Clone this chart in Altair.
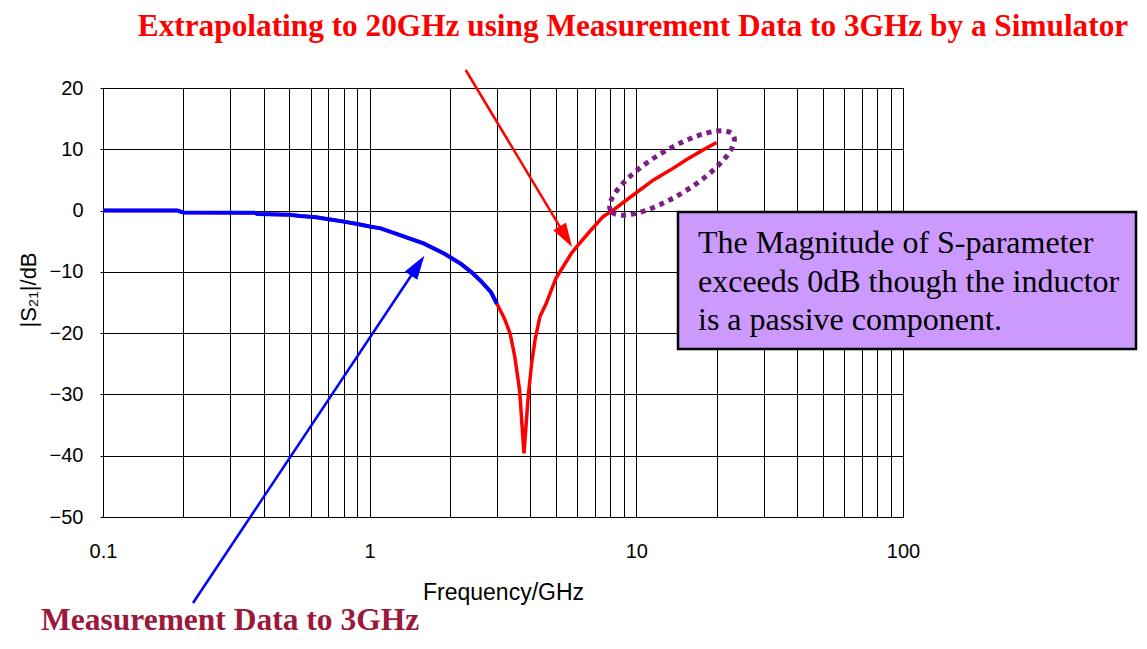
import altair as alt
import pandas as pd

# ---------------- data ----------------
freq_meas = [0.1, 0.19, 0.2, 0.37, 0.38, 0.5, 0.55, 0.63, 0.7, 0.8, 0.9,
             1.0, 1.1, 1.3, 1.6, 1.9, 2.2, 2.4, 2.6, 2.85, 3.0]
s21_meas = [0.0, 0.0, -0.3, -0.35, -0.55, -0.7, -0.9, -1.1, -1.4, -1.8, -2.2,
            -2.6, -2.9, -4.0, -5.4, -7.0, -8.7, -10.0, -11.4, -13.3, -15.2]

freq_sim = [3.0, 3.2, 3.36, 3.5, 3.65, 3.79, 3.93, 4.05, 4.17, 4.35, 4.6, 4.8,
            5.0, 5.5, 5.7, 6.0, 6.6, 7.5, 8.2, 9.7, 11.6, 13.4, 15.4, 17.8, 20.0]
s21_sim = [-15.2, -17.6, -20.0, -23.8, -29.3, -39.6, -30.4, -24.9, -21.1, -17.3, -15.1, -13.0,
           -11.0, -8.1, -7.0, -5.8, -3.7, -1.0, 0.1, 2.5, 5.0, 6.6, 8.3, 9.9, 11.1]

x_grid_values = [0.1, 0.2, 0.3, 0.4, 0.5, 0.6, 0.7, 0.8, 0.9,
                 1, 2, 3, 4, 5, 6, 7, 8, 9,
                 10, 20, 30, 40, 50, 60, 70, 80, 90, 100]
x_label_values = [0.1, 1, 10, 100]
x_label_text = ["0.1", "1", "10", "100"]
y_tick_values = [-50, -40, -30, -20, -10, 0, 10, 20]

title_text = "Extrapolating to 20GHz using Measurement Data to 3GHz by a Simulator"
bottom_text = "Measurement Data to 3GHz"
box_lines = ["The Magnitude of S-parameter",
             "exceeds 0dB though the inductor",
             "is a passive component."]
x_title = "Frequency/GHz"
y_title = "|S₂₁|/dB"

# ---------------- tables ----------------
df_red = pd.DataFrame({"f": freq_meas + freq_sim[1:], "s": s21_meas + s21_sim[1:]})
df_blue = pd.DataFrame({"f": freq_meas, "s": s21_meas})
one = pd.DataFrame({"k": [0]})

W, H = 800, 429
label_expr = "".join(
    f"datum.value == {v} ? '{t}' : " for v, t in zip(x_label_values, x_label_text)
) + "''"

x_enc = alt.X("f:Q",
              scale=alt.Scale(type="log", domain=[0.1, 100], nice=False),
              axis=alt.Axis(values=x_grid_values, labelExpr=label_expr,
                            grid=True, gridColor="#000", gridWidth=1, gridOpacity=1,
                            ticks=False, tickSize=0, domain=False,
                            labelFont="Liberation Sans", labelFontSize=20, labelColor="#000",
                            labelPadding=24, labelFlush=False, labelOverlap=False,
                            title=x_title, titleFont="Liberation Sans",
                            titleFontSize=23, titleFontWeight="normal", titleColor="#000",
                            titleY=82, titleBaseline="alphabetic"))
y_enc = alt.Y("s:Q",
              scale=alt.Scale(domain=[-50, 20], nice=False, zero=False),
              axis=alt.Axis(values=y_tick_values, grid=True, gridColor="#000", gridWidth=1,
                            gridOpacity=1, ticks=True, tickSize=3, tickColor="#000",
                            domain=False, labelFont="Liberation Sans", labelFontSize=20,
                            labelColor="#000", labelPadding=17, labelFlush=False,
                            title=None))

red_line = alt.Chart(df_red).mark_line(color="#FF0000", strokeWidth=3.5).encode(
    x=x_enc, y=y_enc, order="f:Q")
blue_line = alt.Chart(df_blue).mark_line(color="#0000FF", strokeWidth=4).encode(
    x="f:Q", y="s:Q", order="f:Q")

# ---------------- annotations (pixel positions in plot coordinates) ----------------
def ann():
    return alt.Chart(one)

y_title_txt = ann().mark_text(text=y_title, font="Liberation Sans", fontSize=22, angle=270,
                              align="center", baseline="alphabetic", color="#000").encode(
    x=alt.value(-67), y=alt.value(202))

box = ann().mark_rect(fill="#CC99FF", stroke="#000", strokeWidth=2.5).encode(
    x=alt.value(575), x2=alt.value(1033), y=alt.value(124), y2=alt.value(261))
box_txt = ann().mark_text(text=box_lines, lineHeight=38.5, fontSize=32,
                          font="Liberation Serif", align="left", baseline="alphabetic",
                          color="#000").encode(x=alt.value(595), y=alt.value(165))

ell_path = ("M-1,0C-1,-0.171,-0.5523,-0.31,0,-0.31C0.5523,-0.31,1,-0.171,1,0"
            "C1,0.171,0.5523,0.31,0,0.31C-0.5523,0.31,-1,0.171,-1,0Z")
ellipse = ann().mark_point(shape=ell_path, filled=False, color="#7B1F85", opacity=1,
                           strokeWidth=5, strokeDash=[5, 5], size=20736,
                           angle=328.4).encode(x=alt.value(569), y=alt.value(85))

head_path = "M0,-1L0.62,1L-0.62,1Z"
red_rule = ann().mark_rule(color="#FF0000", strokeWidth=2.5).encode(
    x=alt.value(362.7), y=alt.value(-18), x2=alt.value(462.8), y2=alt.value(148.7))
red_head = ann().mark_point(shape=head_path, filled=True, color="#FF0000", opacity=1,
                            size=576, angle=149, strokeWidth=0).encode(
    x=alt.value(462.8), y=alt.value(148.7))
blue_rule = ann().mark_rule(color="#0000FF", strokeWidth=2.5).encode(
    x=alt.value(90), y=alt.value(515), x2=alt.value(314.7), y2=alt.value(177.7))
blue_head = ann().mark_point(shape=head_path, filled=True, color="#0000FF", opacity=1,
                             size=576, angle=33.7, strokeWidth=0).encode(
    x=alt.value(314.7), y=alt.value(177.7))

title_txt = ann().mark_text(text=title_text, font="Liberation Serif", fontWeight="bold",
                            fontSize=31.3, color="#FF0000", align="center",
                            baseline="alphabetic").encode(x=alt.value(530), y=alt.value(-52))
bottom_txt = ann().mark_text(text=bottom_text, font="Liberation Serif", fontWeight="bold",
                             fontSize=31.5, color="#9B1A3C", align="left",
                             baseline="alphabetic").encode(x=alt.value(-62), y=alt.value(542))

chart = alt.layer(
    red_line, blue_line, box, box_txt, ellipse,
    red_rule, red_head, blue_rule, blue_head, title_txt, bottom_txt, y_title_txt
).properties(
    width=W, height=H,
    padding={"left": 95, "top": 80, "right": 236, "bottom": 121},
    autosize=alt.AutoSizeParams(type="none"),
    background="white",
).configure_view(stroke="#000", strokeWidth=1)

chart.save("out.html", embed_options={"renderer": "svg", "actions": False})
